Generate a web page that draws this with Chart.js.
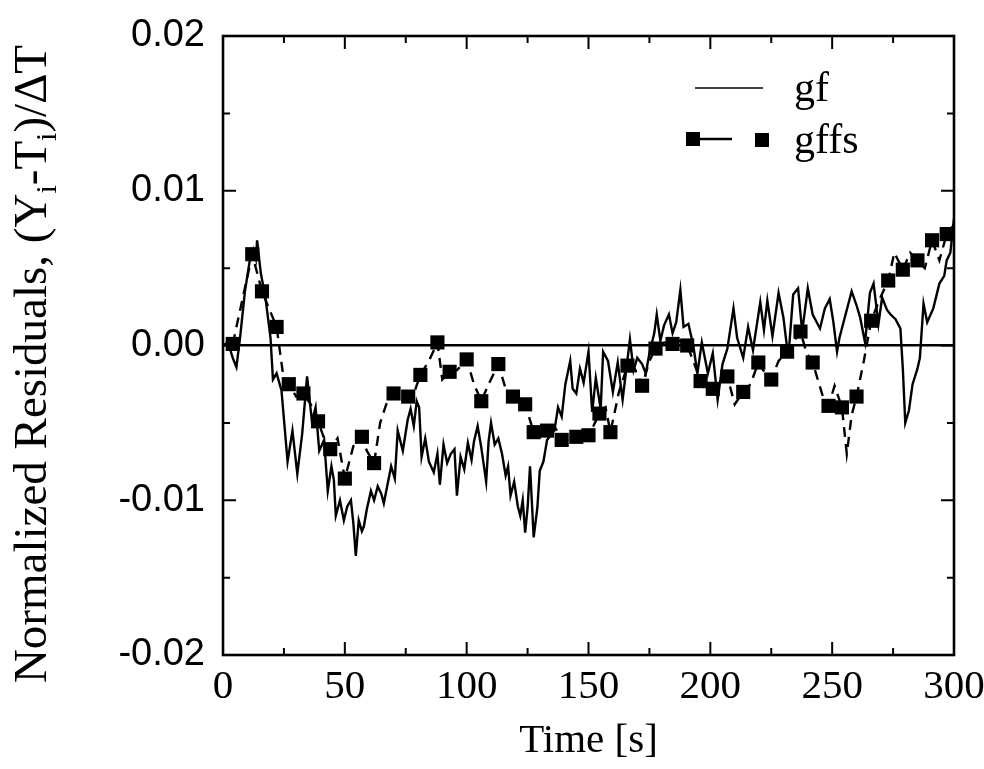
<!DOCTYPE html>
<html>
<head>
<meta charset="utf-8">
<script src="https://cdn.jsdelivr.net/npm/chart.js@4.4.0/dist/chart.umd.min.js"></script>
<style>
  html, body { margin: 0; padding: 0; background: #fff; }
  #wrap { width: 984px; height: 769px; }
</style>
</head>
<body>
<div id="wrap"><canvas id="myChart" width="984" height="769"></canvas></div>
<script>
// gf : solid noisy line
const gfTime = [0, 2, 4, 5.5, 7, 9, 11, 12.5, 13.5, 14, 15.5, 17.5, 19.5, 20.5, 22, 24, 26.5, 28.5, 30.5, 32.5,
  34.5, 36.5, 38, 39.5, 41.5, 43, 44.5, 45.5, 46.3, 48, 49.6, 51, 52.5, 53.5, 54.5, 55.7, 57, 57.8, 59, 60.7,
  62, 63.5, 65, 66, 67.5, 69, 70.5, 71.7, 73.8, 75.8, 77, 78.3, 79.5, 80.5, 81.5, 83, 84.5, 86.5, 88, 89,
  90.5, 92, 93.5, 95, 96, 97.5, 99, 100.5, 102, 103, 104.5, 106, 108, 109, 110, 111.5, 113, 114.5, 116, 117,
  118, 119.5, 121, 122, 123, 124, 125, 126, 127.5, 129, 130, 131.5, 133, 134.5, 136, 137.5, 139, 140.5, 142.5, 143.5,
  145, 146.5, 148, 150, 151.5, 153, 155, 156, 158, 160, 162, 164, 167, 168.5, 170, 172, 173.5, 175, 177, 178,
  179.5, 181, 183, 184.5, 186, 187.7, 189, 191, 193, 194.7, 196.5, 198, 199, 201, 203, 205, 207, 209.5, 211, 213.5,
  215.5, 217.5, 220.5, 222, 223.4, 225.5, 228, 230, 232, 234, 236, 237.7, 240, 242, 245, 247, 249, 250.5, 252, 253,
  255.5, 258, 260, 261.5, 263.5, 265.5, 267, 269, 270.5, 272.5, 274, 276, 278, 279, 280, 281.5, 283, 285, 286, 287.5,
  289, 291.5, 294, 296, 297, 298.5, 300];
const gfValue = [0, 0.0002, -0.0008, -0.0014, 0.0005, 0.0035, 0.0055, 0.0062, 0.0056, 0.0068, 0.0047, 0.0030, 0.0005, -0.0022, -0.0018, -0.0029, -0.0075, -0.0055, -0.0083, -0.0057,
  -0.0020, -0.0049, -0.0040, -0.0068, -0.0061, -0.0094, -0.0078, -0.0087, -0.0110, -0.0100, -0.0113, -0.0104, -0.0100, -0.0115, -0.0136, -0.0113, -0.0120, -0.0117, -0.0106, -0.0094,
  -0.0100, -0.0091, -0.0096, -0.0102, -0.0090, -0.0078, -0.0086, -0.0055, -0.0068, -0.0048, -0.0041, -0.0052, -0.0036, -0.0040, -0.0072, -0.0060, -0.0075, -0.0082, -0.0070, -0.0090,
  -0.0064, -0.0076, -0.0070, -0.0067, -0.0097, -0.0072, -0.0080, -0.0063, -0.0074, -0.0062, -0.0052, -0.0066, -0.0088, -0.0062, -0.0050, -0.0064, -0.0060, -0.0070, -0.0084, -0.0078,
  -0.0097, -0.0088, -0.0104, -0.0110, -0.0100, -0.0121, -0.0105, -0.0078, -0.0124, -0.0105, -0.0081, -0.0075, -0.0061, -0.0058, -0.0055, -0.0040, -0.0046, -0.0025, -0.0010, -0.0028,
  -0.0031, -0.0015, -0.0024, -0.0004, -0.0043, -0.0021, -0.0041, -0.0004, -0.0010, -0.0030, -0.0011, -0.0035, 0.0004, -0.0016, -0.0008, -0.0012, -0.0018, -0.0005, 0.0008, 0.0020,
  0.0003, 0.0013, 0.0020, 0.0008, 0.0015, 0.0036, 0.0012, 0.0014, 0.0000, -0.0018, 0.0002, -0.0010, -0.0018, -0.0005, -0.0035, -0.0012, -0.0002, 0.0024, 0.0005, -0.0008,
  0.0012, -0.0003, 0.0028, 0.0010, 0.0029, 0.0006, 0.0034, 0.0018, -0.0008, 0.0033, 0.0037, 0.0009, 0.0037, 0.0020, 0.0011, 0.0024, 0.0030, 0.0015, -0.0004, 0.0005,
  0.0020, 0.0035, 0.0026, 0.0018, 0.0002, 0.0034, 0.0040, 0.0014, 0.0031, 0.0023, 0.0020, 0.0017, 0.0011, -0.0015, -0.0050, -0.0042, -0.0025, -0.0015, -0.0008, 0.0027,
  0.0015, 0.0024, 0.0040, 0.0045, 0.0055, 0.0060, 0.0082];

// gffs : dashed line, square marker where gffsMark is 1
const gffsTime = [4, 8, 12, 16, 22, 24.5, 27, 30, 33, 36, 39, 41.5, 44, 47, 50, 53.5, 57, 59, 62, 64.5,
  67, 70, 73, 76, 79, 81, 84.5, 88, 90, 93, 96, 100, 103, 106, 109, 113, 116, 119, 121.5, 124,
  127.5, 130.5, 133, 136, 139, 142, 145, 147.5, 150, 152, 154.5, 157, 159, 162.5, 166, 169, 172, 175, 177.5, 181,
  184.5, 187.5, 190.5, 193, 196, 198.5, 201, 204, 207, 210, 213.5, 216.5, 219.7, 222.5, 225, 228, 231.5, 234, 237, 239.5,
  242, 246, 248.5, 251, 254, 256, 258, 260, 263, 266, 269.5, 273, 275.5, 279, 282, 285, 288, 291, 294, 297, 300];
const gffsValue = [0.0001, 0.0030, 0.0059, 0.0035, 0.0012, -0.0017, -0.0025, -0.0033, -0.0031, -0.0038, -0.0049, -0.0060, -0.0067, -0.0060, -0.0086, -0.0065, -0.0059, -0.0068, -0.0076, -0.0050,
  -0.0038, -0.0031, -0.0036, -0.0033, -0.0028, -0.0019, -0.0010, 0.0002, -0.0022, -0.0017, -0.0016, -0.0009, -0.0025, -0.0036, -0.0025, -0.0012, -0.0028, -0.0033, -0.0036, -0.0038,
  -0.0056, -0.0054, -0.0055, -0.0052, -0.0061, -0.0056, -0.0059, -0.0054, -0.0058, -0.0052, -0.0044, -0.0040, -0.0056, -0.0030, -0.0013, -0.0015, -0.0026, -0.0010, -0.0002, 0.0002,
  0.0001, 0.0003, 0.0000, -0.0010, -0.0023, -0.0030, -0.0028, -0.0025, -0.0020, -0.0038, -0.0030, -0.0025, -0.0011, -0.0018, -0.0022, -0.0010, -0.0004, 0.0002, 0.0009, -0.0005,
  -0.0011, -0.0032, -0.0039, -0.0026, -0.0040, -0.0070, -0.0045, -0.0033, -0.0010, 0.0016, 0.0030, 0.0042, 0.0060, 0.0049, 0.0060, 0.0055, 0.0050, 0.0068, 0.0055, 0.0072, 0.0078];
const gffsMark = [1, 0, 1, 1, 1, 0, 1, 0, 1, 0, 1, 0, 1, 0, 1, 0, 1, 0, 1, 0,
  0, 1, 0, 1, 0, 1, 0, 1, 0, 1, 0, 1, 0, 1, 0, 1, 0, 1, 0, 1,
  1, 0, 1, 0, 1, 0, 1, 0, 1, 0, 1, 0, 1, 0, 1, 0, 1, 0, 1, 0,
  1, 0, 1, 0, 1, 0, 1, 0, 1, 0, 1, 0, 1, 0, 1, 0, 1, 0, 1, 0,
  1, 0, 1, 0, 1, 0, 0, 1, 0, 1, 0, 1, 0, 1, 0, 1, 0, 1, 0, 1, 0];

const xTicks = [0, 50, 100, 150, 200, 250, 300];
const yTicks = [-0.02, -0.01, 0.00, 0.01, 0.02];

const serif = '"Liberation Serif", "Times New Roman", serif';
const sans = '"Liberation Sans", Arial, sans-serif';

// frame, inward ticks, legend and y title
const decorPlugin = {
  id: 'decor',
  afterDraw(chart) {
    const ctx = chart.ctx;
    const a = chart.chartArea;
    const xs = chart.scales.x, ys = chart.scales.y;
    ctx.save();
    ctx.strokeStyle = '#000';
    ctx.fillStyle = '#000';
    ctx.lineWidth = 2.6;
    ctx.strokeRect(a.left, a.top, a.right - a.left, a.bottom - a.top);

    ctx.lineWidth = 2;
    ctx.beginPath();
    for (let t = 25; t < 300; t += 25) {
      const px = xs.getPixelForValue(t);
      const len = t % 50 === 0 ? 13 : 7;
      ctx.moveTo(px, a.bottom); ctx.lineTo(px, a.bottom - len);
      ctx.moveTo(px, a.top); ctx.lineTo(px, a.top + len);
    }
    for (let k = -3; k <= 3; k++) {
      const py = ys.getPixelForValue(k * 0.005);
      const len = k % 2 === 0 ? 13 : 7;
      ctx.moveTo(a.left, py); ctx.lineTo(a.left + len, py);
      ctx.moveTo(a.right, py); ctx.lineTo(a.right - len, py);
    }
    ctx.stroke();

    // legend
    ctx.lineWidth = 1.6;
    ctx.beginPath();
    ctx.moveTo(695, 88); ctx.lineTo(763, 88);
    ctx.stroke();
    ctx.lineWidth = 2.4;
    ctx.beginPath();
    ctx.moveTo(693, 139); ctx.lineTo(732, 139);
    ctx.stroke();
    ctx.fillRect(686, 132, 14, 14);
    ctx.fillRect(755, 133, 14, 14);
    ctx.font = '42px ' + serif;
    ctx.textBaseline = 'alphabetic';
    ctx.textAlign = 'left';
    ctx.fillText('gf', 794, 101);
    ctx.fillText('gffs', 794, 153);

    // y axis title with subscripts
    const parts = [
      ['Normalized Residuals, (Y', false],
      ['i', true],
      ['-T', false],
      ['i', true],
      [')/\u0394T', false]
    ];
    const big = '47px ' + serif, small = '30px ' + serif;
    let total = 0;
    parts.forEach(p => { ctx.font = p[1] ? small : big; total += ctx.measureText(p[0]).width; });
    ctx.translate(46, 364);
    ctx.rotate(-Math.PI / 2);
    let x = -total / 2;
    parts.forEach(p => {
      ctx.font = p[1] ? small : big;
      ctx.fillText(p[0], x, p[1] ? 10 : 0);
      x += ctx.measureText(p[0]).width;
    });
    ctx.restore();
  }
};

new Chart(document.getElementById('myChart'), {
  type: 'line',
  data: {
    datasets: [
      {
        label: 'gf',
        data: gfTime.map((t, i) => ({ x: t, y: gfValue[i] })),
        borderColor: '#000',
        borderWidth: 2.4,
        pointRadius: 0,
        tension: 0
      },
      {
        label: 'gffs',
        data: gffsTime.map((t, i) => ({ x: t, y: gffsValue[i] })),
        borderColor: '#000',
        borderWidth: 2.4,
        borderDash: [10, 7],
        pointStyle: 'rect',
        pointRadius: ctx => gffsMark[ctx.dataIndex] ? 10 : 0,
        pointBackgroundColor: '#000',
        pointBorderWidth: 0,
        tension: 0
      }
    ]
  },
  options: {
    responsive: false,
    animation: false,
    events: [],
    layout: { padding: { left: 0, right: 30, top: 36, bottom: 0 } },
    plugins: { legend: { display: false }, tooltip: { enabled: false } },
    scales: {
      x: {
        type: 'linear',
        min: 0,
        max: 300,
        afterBuildTicks: s => { s.ticks = xTicks.map(v => ({ value: v })); },
        ticks: { font: { family: serif, size: 41 }, color: '#000', padding: 8, maxRotation: 0, autoSkip: false },
        grid: { display: false, drawTicks: false },
        border: { display: false },
        title: { display: true, text: 'Time [s]', color: '#000', font: { family: serif, size: 41 }, padding: { top: 0, bottom: 3 } },
        afterFit: s => { s.height = 114; s.paddingLeft = 0; s.paddingRight = 0; }
      },
      y: {
        min: -0.02,
        max: 0.02,
        afterBuildTicks: s => { s.ticks = yTicks.map(v => ({ value: v })); },
        ticks: {
          font: { family: sans, size: 38 },
          color: '#000',
          padding: 18,
          callback: v => Math.abs(v) < 1e-9 ? '0.00' : v.toFixed(2)
        },
        grid: {
          drawTicks: false,
          lineWidth: 2.4,
          color: c => (c.tick && Math.abs(c.tick.value) < 1e-9) ? '#000' : 'rgba(0,0,0,0)'
        },
        border: { display: false },
        afterFit: s => { s.width = 223; s.paddingTop = 0; s.paddingBottom = 0; }
      }
    }
  },
  plugins: [decorPlugin]
});
</script>
</body>
</html>
